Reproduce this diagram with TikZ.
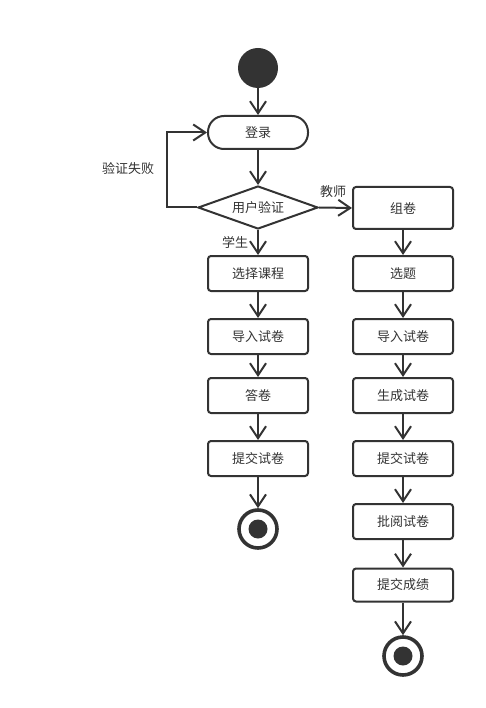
\documentclass[tikz,border=0pt]{standalone}
\usepackage{fontspec}
\setmainfont{Noto Sans CJK SC}
\usetikzlibrary{arrows.meta,shapes.geometric}
\definecolor{ink}{HTML}{333333}
\tikzset{
  every node/.style={font=\fontsize{13}{15}\selectfont, text=ink},
  line/.style={draw=ink, line width=2pt},
  act/.style={line, rounded corners=3pt, minimum width=100pt, inner sep=0pt},
  pill/.style={line, rounded corners=16pt, minimum width=100pt, minimum height=33pt, inner sep=0pt},
  dec/.style={line, diamond, aspect=2.8, minimum width=120pt, minimum height=43pt, inner sep=0pt},
  arr/.style={line, -{Straight Barb[length=12pt,width=16pt,line width=2pt]}},
  startst/.style={circle, fill=ink, minimum size=40pt, inner sep=0pt},
  endst/.style={circle, draw=ink, line width=3.6pt, minimum size=38pt, inner sep=0pt},
  lbl/.style={inner sep=0pt}
}
\begin{document}
\begin{tikzpicture}[x=1pt,y=-1pt]
\useasboundingbox (0,0) rectangle (485,708);
\node[startst] (start) at (258,68) {};
\node[pill] (login) at (258,132.5) {登录};
\node[dec] (verify) at (258,207.5) {用户验证};
% left column
\node[act, minimum height=35pt] (l1) at (258,273.5) {选择课程};
\node[act, minimum height=35pt] (l2) at (258,336.5) {导入试卷};
\node[act, minimum height=35pt] (l3) at (258,395.5) {答卷};
\node[act, minimum height=35pt] (l4) at (258,458.5) {提交试卷};
\node[endst] (endL) at (258,529) {};
\fill[ink] (endL.center) circle (9.5);
% right column
\node[act, minimum height=42pt] (r1) at (403,208) {组卷};
\node[act, minimum height=35pt] (r2) at (403,273.5) {选题};
\node[act, minimum height=35pt] (r3) at (403,336.5) {导入试卷};
\node[act, minimum height=35pt] (r4) at (403,395.5) {生成试卷};
\node[act, minimum height=35pt] (r5) at (403,458.5) {提交试卷};
\node[act, minimum height=35pt] (r6) at (403,521.5) {批阅试卷};
\node[act, minimum height=33pt] (r7) at (403,585) {提交成绩};
\node[endst] (endR) at (403,656) {};
\fill[ink] (endR.center) circle (9.5);
% labels
\node[lbl] (fail) at (128,169) {验证失败};
\node[lbl] (teacher) at (333,192) {教师};
\node[lbl] (student) at (235,242) {学生};
% connectors
\draw[arr] (start) -- (login);
\draw[arr] (login) -- (verify);
\draw[arr] (verify.west) -- ++(-30,0) |- (login.west);
\draw[arr] (verify.east) -- (r1.west);
\draw[arr] (verify.south) -- (l1);
\draw[arr] (l1) -- (l2);
\draw[arr] (l2) -- (l3);
\draw[arr] (l3) -- (l4);
\draw[arr] (l4) -- (endL);
\draw[arr] (r1) -- (r2);
\draw[arr] (r2) -- (r3);
\draw[arr] (r3) -- (r4);
\draw[arr] (r4) -- (r5);
\draw[arr] (r5) -- (r6);
\draw[arr] (r6) -- (r7);
\draw[arr] (r7) -- (endR);
\end{tikzpicture}
\end{document}
